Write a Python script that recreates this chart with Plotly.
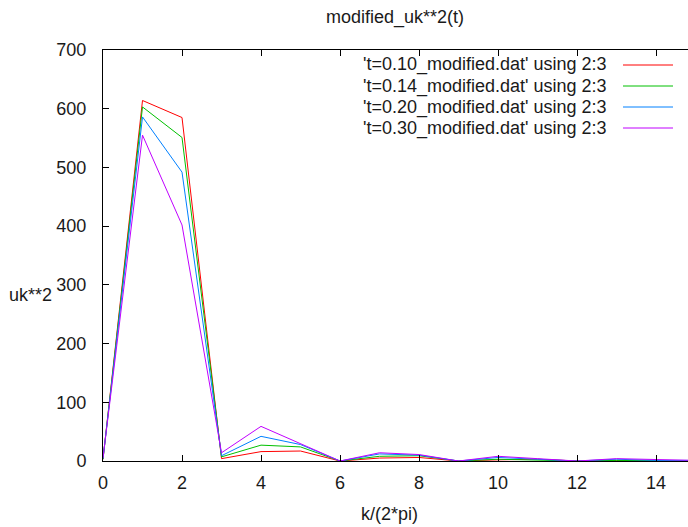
import plotly.graph_objects as go

k = list(range(16))
labels = [
    "'t=0.10_modified.dat' using 2:3",
    "'t=0.14_modified.dat' using 2:3",
    "'t=0.20_modified.dat' using 2:3",
    "'t=0.30_modified.dat' using 2:3",
]
uk_t010 = [3, 614, 585, 4, 16, 17, 0, 5, 6, 0, 2, 3, 0, 1, 0, 0]
uk_t014 = [3, 603, 551, 7, 27, 24, 0, 8, 9, 0, 3, 2, 0, 1, 1, 0]
uk_t020 = [4, 586, 492, 9, 42, 28, 0, 12, 10, 0, 6, 3, 0, 3, 1, 1]
uk_t030 = [5, 555, 402, 14, 59, 30, 0, 14, 11, 0, 8, 4, 0, 4, 2, 1]
series = [uk_t010, uk_t014, uk_t020, uk_t030]
colors = ["#ff0000", "#00c000", "#0080ff", "#c000ff"]
xticks = [0, 2, 4, 6, 8, 10, 12, 14]
yticks = [0, 100, 200, 300, 400, 500, 600, 700]

FONT = "Liberation Sans, Arial, sans-serif"
TXT = "#1a1a1a"
W, H = 688, 527
L, R, T, B = 103, 0, 50, 66
pw = W - L - R
ph = H - T - B

fig = go.Figure()
for ys, c, name in zip(series, colors, labels):
    fig.add_trace(go.Scatter(x=k, y=ys, mode="lines", name=name,
                             line=dict(color=c, width=1), showlegend=False))

# gnuplot-style key: text right-aligned, sample line on the right
row_px = [65, 86, 107, 128]
for name, c, ry in zip(labels, colors, row_px):
    yp = (H - B - ry) / ph
    fig.add_annotation(x=(609 - L) / pw, y=yp, xref="paper", yref="paper",
                       text=name, showarrow=False, xanchor="right", yanchor="middle",
                       font=dict(family=FONT, size=18, color=TXT))
    fig.add_shape(type="line", xref="paper", yref="paper",
                  x0=(623 - L) / pw, x1=(673 - L) / pw, y0=yp, y1=yp,
                  line=dict(color=c, width=1))

fig.add_annotation(x=(30 - L) / pw, y=(H - B - 295) / ph, xref="paper", yref="paper",
                   text="uk**2", showarrow=False, xanchor="center", yanchor="middle",
                   font=dict(family=FONT, size=18, color=TXT))
fig.add_annotation(x=(389 - L) / pw, y=(H - B - 514) / ph, xref="paper", yref="paper",
                   text="k/(2*pi)", showarrow=False, xanchor="center", yanchor="middle",
                   font=dict(family=FONT, size=18, color=TXT))

fig.update_layout(
    width=W, height=H,
    margin=dict(l=L, r=R, t=T, b=B),
    paper_bgcolor="white", plot_bgcolor="white",
    font=dict(family=FONT, size=18, color=TXT),
    title=dict(text="modified_uk**2(t)", x=395 / W, xanchor="center",
               y=1 - 17 / H, yanchor="middle", yref="container",
               font=dict(family=FONT, size=18, color=TXT)),
    xaxis=dict(range=[0, pw / 39.5], tickvals=xticks, ticks="inside", ticklen=6,
               tickcolor="#000", showline=True, linecolor="#000", linewidth=1,
               mirror="ticks", showgrid=False, zeroline=False,
               ticklabelstandoff=5, tickfont=dict(family=FONT, size=18, color=TXT)),
    yaxis=dict(range=[0, 700], tickvals=yticks, ticks="inside", ticklen=6,
               tickcolor="#000", showline=True, linecolor="#000", linewidth=1,
               mirror=False, showgrid=False, zeroline=False,
               ticklabelstandoff=12, tickfont=dict(family=FONT, size=18, color=TXT)),
)

fig.write_html("out.html")
